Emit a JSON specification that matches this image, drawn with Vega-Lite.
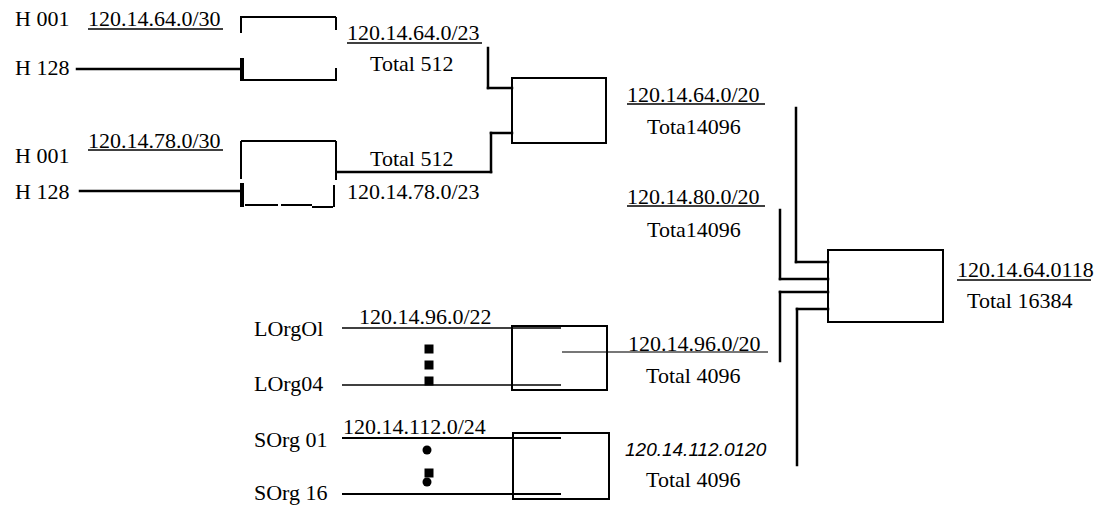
{
  "$schema": "https://vega.github.io/schema/vega-lite/v6.json",
  "width": 1103,
  "height": 506,
  "autosize": {"type": "fit", "contains": "padding"},
  "padding": 0,
  "background": "white",
  "config": {"view": {"stroke": null}},
  "datasets": {
    "segs": [
      {"g": "thick", "x": 77, "y": 69, "x2": 242, "y2": 69},
      {"g": "thick", "x": 80, "y": 191, "x2": 240, "y2": 191},
      {"g": "thick", "x": 488, "y": 48, "x2": 488, "y2": 88},
      {"g": "thick", "x": 488, "y": 88, "x2": 512, "y2": 88},
      {"g": "thick", "x": 337, "y": 172, "x2": 491, "y2": 172},
      {"g": "thick", "x": 491, "y": 133, "x2": 491, "y2": 172},
      {"g": "thick", "x": 491, "y": 133, "x2": 512, "y2": 133},
      {"g": "box", "x": 240, "y": 17, "x2": 336, "y2": 17},
      {"g": "box", "x": 241, "y": 17, "x2": 241, "y2": 33},
      {"g": "box", "x": 336, "y": 17, "x2": 336, "y2": 30},
      {"g": "bar", "x": 242, "y": 58, "x2": 242, "y2": 81},
      {"g": "box", "x": 242, "y": 80, "x2": 336, "y2": 80},
      {"g": "box", "x": 336, "y": 68, "x2": 336, "y2": 81},
      {"g": "box", "x": 241, "y": 141, "x2": 336, "y2": 141},
      {"g": "box", "x": 241, "y": 141, "x2": 241, "y2": 179},
      {"g": "box", "x": 336, "y": 141, "x2": 336, "y2": 180},
      {"g": "bar", "x": 242, "y": 183, "x2": 242, "y2": 207},
      {"g": "box", "x": 245, "y": 205, "x2": 278, "y2": 205},
      {"g": "box", "x": 281, "y": 205, "x2": 312, "y2": 205},
      {"g": "box", "x": 312, "y": 207, "x2": 333, "y2": 207},
      {"g": "box", "x": 334, "y": 185, "x2": 334, "y2": 207},
      {"g": "thick", "x": 796, "y": 108, "x2": 796, "y2": 262},
      {"g": "thick", "x": 796, "y": 262, "x2": 828, "y2": 262},
      {"g": "thick", "x": 780, "y": 210, "x2": 780, "y2": 279},
      {"g": "thick", "x": 780, "y": 279, "x2": 828, "y2": 279},
      {"g": "thick", "x": 780, "y": 292, "x2": 828, "y2": 292},
      {"g": "thick", "x": 780, "y": 292, "x2": 780, "y2": 361},
      {"g": "thick", "x": 797, "y": 309, "x2": 828, "y2": 309},
      {"g": "thick", "x": 797, "y": 309, "x2": 797, "y2": 465},
      {"g": "box", "x": 342, "y": 438, "x2": 561, "y2": 438},
      {"g": "box", "x": 342, "y": 494, "x2": 561, "y2": 494},
      {"g": "thin", "x": 342, "y": 328, "x2": 561, "y2": 328},
      {"g": "thin", "x": 342, "y": 385, "x2": 561, "y2": 385},
      {"g": "gray", "x": 562, "y": 352, "x2": 768, "y2": 352},
      {"g": "thin", "x": 88, "y": 29, "x2": 223, "y2": 29},
      {"g": "thin", "x": 347, "y": 43, "x2": 482, "y2": 43},
      {"g": "thin", "x": 627, "y": 104, "x2": 765, "y2": 104},
      {"g": "thin", "x": 88, "y": 150, "x2": 223, "y2": 150},
      {"g": "thin", "x": 627, "y": 206, "x2": 765, "y2": 206},
      {"g": "thin", "x": 957, "y": 280, "x2": 1091, "y2": 280}
    ],
    "boxes": [
      {"x": 512, "y": 78, "x2": 606, "y2": 143},
      {"x": 512, "y": 326, "x2": 607, "y2": 390},
      {"x": 513, "y": 433, "x2": 609, "y2": 499},
      {"x": 828, "y": 250, "x2": 943, "y2": 322}
    ],
    "dots": [
      {"shape": "square", "x": 429, "y": 349},
      {"shape": "square", "x": 429, "y": 365},
      {"shape": "square", "x": 429, "y": 381},
      {"shape": "square", "x": 429, "y": 473},
      {"shape": "circle", "x": 427, "y": 450},
      {"shape": "circle", "x": 427, "y": 482}
    ],
    "labels": [
      {"t": "H 001", "x": 15, "y": 26},
      {"t": "120.14.64.0/30", "x": 88, "y": 26},
      {"t": "H 128", "x": 15, "y": 75},
      {"t": "120.14.64.0/23", "x": 347, "y": 40},
      {"t": "Total 512", "x": 370, "y": 71},
      {"t": "120.14.64.0/20", "x": 627, "y": 102},
      {"t": "Tota14096", "x": 647, "y": 134},
      {"t": "H 001", "x": 15, "y": 163},
      {"t": "120.14.78.0/30", "x": 88, "y": 148},
      {"t": "Total 512", "x": 370, "y": 166},
      {"t": "H 128", "x": 15, "y": 199},
      {"t": "120.14.78.0/23", "x": 347, "y": 199},
      {"t": "120.14.80.0/20", "x": 627, "y": 204},
      {"t": "Tota14096", "x": 647, "y": 237},
      {"t": "120.14.64.0118", "x": 957, "y": 277},
      {"t": "Total  16384", "x": 967, "y": 308},
      {"t": "120.14.96.0/22", "x": 359, "y": 324},
      {"t": "LOrgOl", "x": 254, "y": 336},
      {"t": "120.14.96.0/20", "x": 628, "y": 351},
      {"t": "Total 4096", "x": 646, "y": 383},
      {"t": "LOrg04", "x": 254, "y": 391},
      {"t": "120.14.112.0/24", "x": 343, "y": 434},
      {"t": "SOrg 01", "x": 254, "y": 447},
      {"t": "Total 4096", "x": 646, "y": 487},
      {"t": "SOrg 16", "x": 254, "y": 500}
    ],
    "italic": [
      {"t": "120.14.112.0120", "x": 625, "y": 456}
    ]
  },
  "encoding": {
    "x": {"field": "x", "type": "quantitative", "axis": null, "scale": {"domain": [0, 1103], "nice": false, "zero": false}},
    "y": {"field": "y", "type": "quantitative", "axis": null, "scale": {"domain": [0, 506], "nice": false, "zero": false, "reverse": true}}
  },
  "layer": [
    {
      "data": {"name": "segs"},
      "transform": [{"filter": "datum.g === 'thick'"}],
      "mark": {"type": "rule", "color": "black", "strokeWidth": 2.5, "strokeCap": "square"},
      "encoding": {"x2": {"field": "x2"}, "y2": {"field": "y2"}}
    },
    {
      "data": {"name": "segs"},
      "transform": [{"filter": "datum.g === 'box'"}],
      "mark": {"type": "rule", "color": "black", "strokeWidth": 2},
      "encoding": {"x2": {"field": "x2"}, "y2": {"field": "y2"}}
    },
    {
      "data": {"name": "segs"},
      "transform": [{"filter": "datum.g === 'bar'"}],
      "mark": {"type": "rule", "color": "black", "strokeWidth": 4},
      "encoding": {"x2": {"field": "x2"}, "y2": {"field": "y2"}}
    },
    {
      "data": {"name": "segs"},
      "transform": [{"filter": "datum.g === 'thin'"}],
      "mark": {"type": "rule", "color": "black", "strokeWidth": 1.3},
      "encoding": {"x2": {"field": "x2"}, "y2": {"field": "y2"}}
    },
    {
      "data": {"name": "segs"},
      "transform": [{"filter": "datum.g === 'gray'"}],
      "mark": {"type": "rule", "color": "#777777", "strokeWidth": 1.8},
      "encoding": {"x2": {"field": "x2"}, "y2": {"field": "y2"}}
    },
    {
      "data": {"name": "boxes"},
      "mark": {"type": "rect", "fill": null, "fillOpacity": 0, "stroke": "black", "strokeWidth": 2},
      "encoding": {"x2": {"field": "x2"}, "y2": {"field": "y2"}}
    },
    {
      "data": {"name": "dots"},
      "mark": {"type": "point", "filled": true, "color": "black", "size": 81, "opacity": 1},
      "encoding": {"shape": {"field": "shape", "type": "nominal", "legend": null, "scale": {"domain": ["square", "circle"], "range": ["square", "circle"]}}}
    },
    {
      "data": {"name": "labels"},
      "mark": {"type": "text", "font": "Liberation Serif", "fontSize": 22, "align": "left", "baseline": "alphabetic", "color": "black"},
      "encoding": {"text": {"field": "t"}}
    },
    {
      "data": {"name": "italic"},
      "mark": {"type": "text", "font": "Liberation Sans", "fontStyle": "italic", "fontSize": 19, "align": "left", "baseline": "alphabetic", "color": "black"},
      "encoding": {"text": {"field": "t"}}
    }
  ]
}
